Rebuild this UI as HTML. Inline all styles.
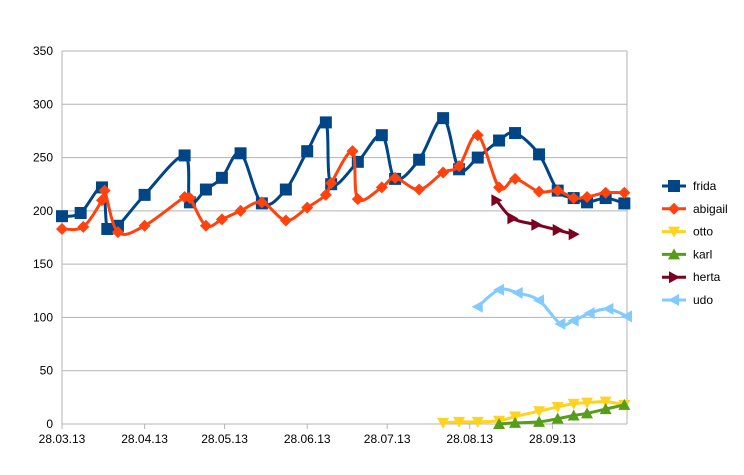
<!DOCTYPE html>
<html><head><meta charset="utf-8"><style>
body{margin:0;background:#fff}
svg{display:block;font-family:"Liberation Sans",sans-serif;font-size:12px}
</style></head><body>
<svg id="chart" width="744" height="475"></svg>
<script>
const xTickDays=[0,31,61,92,122,153,184];
const xTickLabels=["28.03.13","28.04.13","28.05.13","28.06.13","28.07.13","28.08.13","28.09.13"];
const yTicks=[0,50,100,150,200,250,300,350];
const seriesNames=["frida","abigail","otto","karl","herta","udo"];
const fridaX=[0,7,15,17,21,31,46,48,54,60,67,75,84,92,99,101,111,120,125,134,143,149,156,164,170,179,186,192,197,204,211];
const fridaY=[195,198,222,183,186,215,252,208,220,231,254,207,220,256,283,225,246,271,230,248,287,239,250,266,273,253,219,212,208,212,207];
const abigailX=[0,8,15,16,21,31,46,48,54,60,67,75,84,92,99,101,109,111,120,125,134,143,149,156,164,170,179,186,192,197,204,211];
const abigailY=[183,185,210,219,180,186,213,212,186,192,200,208,191,203,215,226,256,211,222,231,220,236,242,271,222,230,218,219,212,213,217,217];
const ottoX=[143,149,156,164,170,179,186,192,197,204,211];
const ottoY=[1,2,2,3,7,12,16,19,20,21,18];
const karlX=[164,170,179,186,192,197,204,211];
const karlY=[0,1,2,5,8,10,14,18];
const hertaX=[163,169,178,186,192];
const hertaY=[210,193,187,182,178];
const udoX=[156,164,171,179,187,192,198,205,212];
const udoY=[110,126,123,116,94,97,104,108,101];

const svg=document.getElementById('chart');
const NS='http://www.w3.org/2000/svg';
const X0=62,X1=627,Y0=424,Y1=51,DMAX=212,VMAX=350;
function sx(d){return X0+(X1-X0)*d/DMAX;}
function sy(v){return Y0-(Y0-Y1)*v/VMAX;}
function mk(tag,attrs,parent){const e=document.createElementNS(NS,tag);for(const k in attrs)e.setAttribute(k,attrs[k]);(parent||svg).appendChild(e);return e;}

yTicks.forEach(v=>{
  const l=mk('line',{x1:X0,x2:X1,y1:sy(v),y2:sy(v),stroke:'#b3b3b3','stroke-width':1});
  
  
  const t=mk('text',{x:53,y:sy(v)+4,'text-anchor':'end',fill:'#000'});
  t.textContent=v;
  
  
});
mk('line',{x1:X0,x2:X0,y1:Y1,y2:Y0+5,stroke:'#b3b3b3'});
mk('line',{x1:X1,x2:X1,y1:Y1,y2:Y0,stroke:'#b3b3b3'});
xTickDays.forEach((d,i)=>{
  mk('line',{x1:sx(d),x2:sx(d),y1:Y0,y2:Y0+5,stroke:'#b3b3b3'});
  const t=mk('text',{x:sx(d),y:Y0+19,'text-anchor':'middle',fill:'#000'});
  t.textContent=xTickLabels[i];
  
  
});

function smooth(pts){
  let d='M'+pts[0][0]+','+pts[0][1];
  for(let i=0;i<pts.length-1;i++){
    const p0=pts[Math.max(0,i-1)],p1=pts[i],p2=pts[i+1],p3=pts[Math.min(pts.length-1,i+2)];
    const c1=[p1[0]+(p2[0]-p0[0])/6,p1[1]+(p2[1]-p0[1])/6];
    const c2=[p2[0]-(p3[0]-p1[0])/6,p2[1]-(p3[1]-p1[1])/6];
    d+=' C'+c1[0]+','+c1[1]+' '+c2[0]+','+c2[1]+' '+p2[0]+','+p2[1];
  }
  return d;
}
function marker(type,x,y,color,g){
  let e;
  if(type==='square')e=mk('rect',{x:x-6,y:y-6,width:12,height:12,fill:color},g);
  else if(type==='diamond')e=mk('polygon',{points:`${x},${y-6} ${x+6},${y} ${x},${y+6} ${x-6},${y}`,fill:color},g);
  else if(type==='down')e=mk('polygon',{points:`${x-6},${y-5} ${x+6},${y-5} ${x},${y+6}`,fill:color},g);
  else if(type==='up')e=mk('polygon',{points:`${x-6},${y+5} ${x+6},${y+5} ${x},${y-6}`,fill:color},g);
  else if(type==='right')e=mk('polygon',{points:`${x-5},${y-6} ${x-5},${y+6} ${x+6},${y}`,fill:color},g);
  else e=mk('polygon',{points:`${x+5},${y-6} ${x+5},${y+6} ${x-6},${y}`,fill:color},g);
  return e;
}
const defs=[
  [fridaX,fridaY,'#004586','square'],
  [abigailX,abigailY,'#ff420e','diamond'],
  [ottoX,ottoY,'#ffd320','down'],
  [karlX,karlY,'#579d1c','up'],
  [hertaX,hertaY,'#7e0021','right'],
  [udoX,udoY,'#83caff','left']
];
defs.forEach((s,i)=>{
  const g=mk('g',{});
  
  
  const pts=s[0].map((d,j)=>[sx(d),sy(s[1][j])]);
  mk('path',{d:smooth(pts),fill:'none',stroke:s[2],'stroke-width':3,'stroke-linejoin':'round'},g);
  pts.forEach(p=>{
    const m=marker(s[3],p[0],p[1],s[2],g);
    
    
  });
  const ly=186+i*22.8;
  const lg=mk('g',{});
  
  
  mk('line',{x1:662,x2:686,y1:ly,y2:ly,stroke:s[2],'stroke-width':3},lg);
  marker(s[3],674,ly,s[2],lg);
  const t=mk('text',{x:693,y:ly+4,fill:'#000'},lg);
  t.textContent=seriesNames[i];
});
</script>
</body></html>
